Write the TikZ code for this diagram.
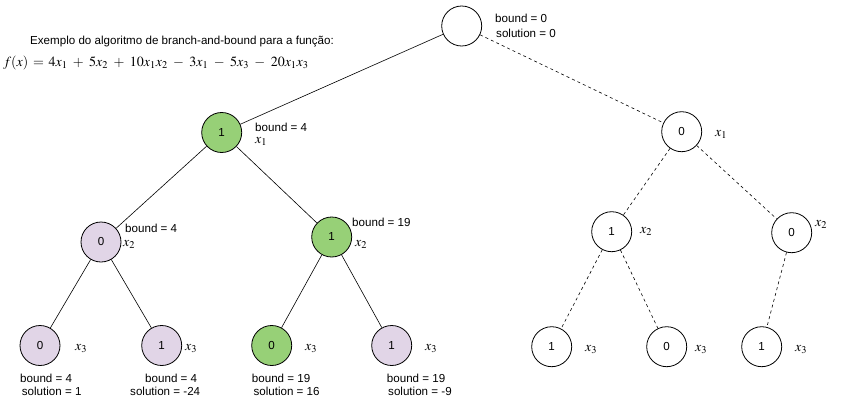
\documentclass[tikz,border=0pt]{standalone}
\usepackage{mathptmx}
\usepackage{fontspec}
\setmainfont{Liberation Sans}
\definecolor{greenfill}{HTML}{97D077}
\definecolor{purplefill}{HTML}{E1D5E7}
\newcommand{\lblfont}{\fontsize{11.6}{13}\selectfont}
\newcommand{\varfont}{\fontsize{14}{14}\selectfont}
\tikzset{
  nd/.style={circle, draw, line width=0.8pt, minimum size=40pt, inner sep=0pt, font=\lblfont},
  gn/.style={nd, fill=greenfill},
  pp/.style={nd, fill=purplefill},
  wn/.style={nd, fill=white},
  lbl/.style={anchor=base west, inner sep=0pt, font=\lblfont},
  var/.style={anchor=base west, inner sep=0pt, font=\varfont},
  edge/.style={line width=0.6pt},
  dedge/.style={line width=0.6pt, dash pattern=on 3pt off 3pt},
}
\begin{document}
\begin{tikzpicture}[x=1pt, y=-1pt]
\useasboundingbox (0,0) rectangle (843,407);
% title and formula
\node[lbl] (title) at (30,44) {Exemplo do algoritmo de branch-and-bound para a função:};
\node[var] (formula) at (3,66.5) {\medmuskip=7mu \thickmuskip=6mu $f(x) = 4x_1 + 5x_2 + 10x_1x_2 - 3x_1 - 5x_3 - 20x_1x_3$};
% root
\node[wn] (r) at (461.7,26) {};
\node[lbl] (rb) at (495,22.5) {bound = 0};
\node[lbl] (rs) at (496,37.5) {solution = 0};
% level 1
\node[gn] (a) at (221.7,132.5) {1};
\node[lbl] (ab) at (255,131) {bound = 4};
\node[var] (av) at (255,143.5) {$x_1$};
\node[wn] (b) at (681.7,131.7) {0};
\node[var] (bv) at (715,136) {$x_1$};
% level 2
\node[pp] (a0) at (101,242) {0};
\node[lbl] (a0b) at (125,232) {bound = 4};
\node[var] (a0v) at (123,246) {$x_2$};
\node[gn] (a1) at (331.7,237) {1};
\node[lbl] (a1b) at (352,226.5) {bound = 19};
\node[var] (a1v) at (355,246) {$x_2$};
\node[wn] (b1) at (611.7,231.7) {1};
\node[var] (b1v) at (640,233.5) {$x_2$};
\node[wn] (b0) at (791.7,232.7) {0};
\node[var] (b0v) at (815,226) {$x_2$};
% level 3
\node[pp] (c1) at (40,345.5) {0};
\node[var] (c1v) at (75,350) {$x_3$};
\node[lbl] (c1b) at (20,382) {bound = 4};
\node[lbl] (c1s) at (21.7,395.5) {solution = 1};
\node[pp] (c2) at (161.7,345.5) {1};
\node[var] (c2v) at (185,350) {$x_3$};
\node[lbl] (c2b) at (145,382) {bound = 4};
\node[lbl] (c2s) at (130,395.5) {solution = -24};
\node[gn] (c3) at (271.7,345.5) {0};
\node[var] (c3v) at (305,350) {$x_3$};
\node[lbl] (c3b) at (251.7,382) {bound = 19};
\node[lbl] (c3s) at (253.3,395.5) {solution = 16};
\node[pp] (c4) at (391.7,345.5) {1};
\node[var] (c4v) at (425,350) {$x_3$};
\node[lbl] (c4b) at (386.7,382) {bound = 19};
\node[lbl] (c4s) at (388,395.5) {solution = -9};
\node[wn] (d1) at (551.7,346.7) {1};
\node[var] (d1v) at (585,351) {$x_3$};
\node[wn] (d2) at (666.7,346.7) {0};
\node[var] (d2v) at (695,351) {$x_3$};
\node[wn] (d3) at (761.7,346.7) {1};
\node[var] (d3v) at (795,351) {$x_3$};
% edges
\draw[edge] (r) -- (a);
\draw[dedge] (r) -- (b);
\draw[edge] (a) -- (a0);
\draw[edge] (a) -- (a1);
\draw[edge] (a0) -- (c1);
\draw[edge] (a0) -- (c2);
\draw[edge] (a1) -- (c3);
\draw[edge] (a1) -- (c4);
\draw[dedge] (b) -- (b1);
\draw[dedge] (b) -- (b0);
\draw[dedge] (b1) -- (d1);
\draw[dedge] (b1) -- (d2);
\draw[dedge] (b0) -- (d3);
\end{tikzpicture}
\end{document}
